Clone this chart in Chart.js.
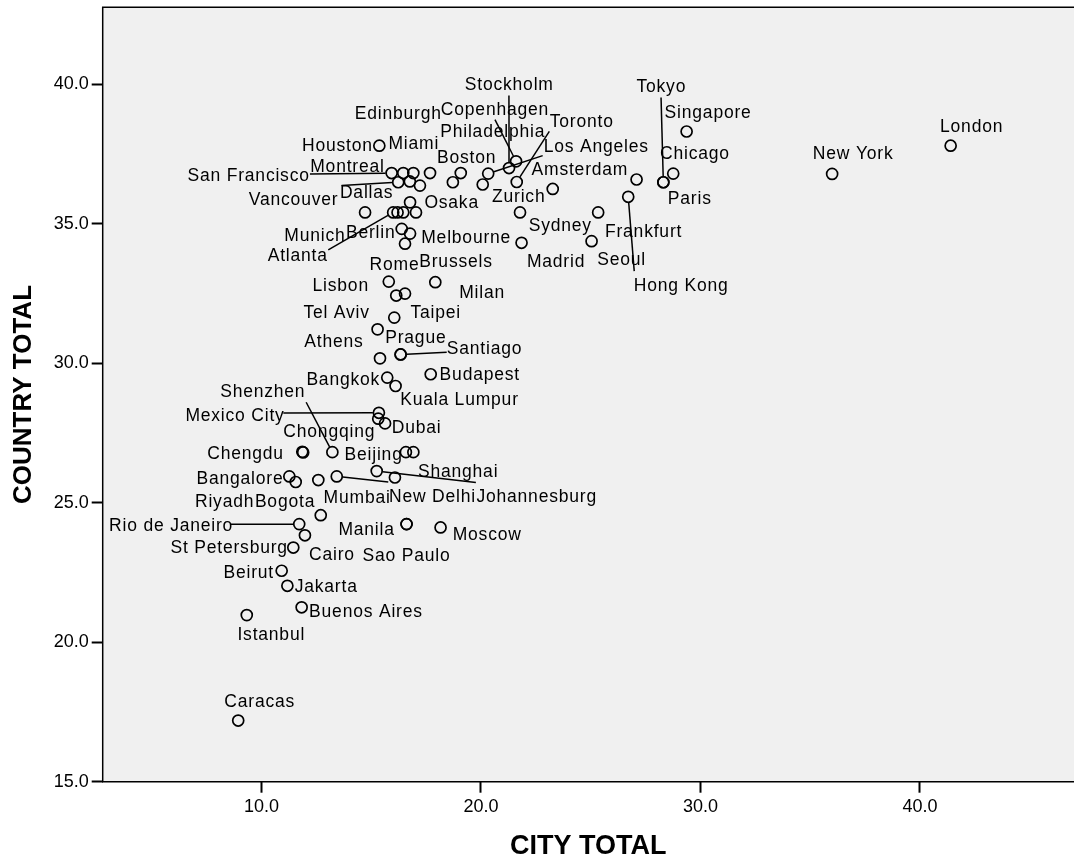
<!DOCTYPE html>
<html>
<head>
<meta charset="utf-8">
<script src="https://cdn.jsdelivr.net/npm/chart.js@4.4.1/dist/chart.umd.min.js"></script>
<style>
  html, body { margin: 0; padding: 0; background: #fff; }
  canvas { display: block; }
</style>
</head>
<body>
<canvas id="cityChart" width="1074" height="863"></canvas>
<script>
// city scores (x = city total, y = country total)
const cities = [
  'London', 'New York', 'Singapore', 'Chicago', 'Paris', 'Tokyo', 'Amsterdam', 'Hong Kong',
  'Frankfurt', 'Seoul', 'Zurich', 'Sydney', 'Madrid', 'Toronto', 'Copenhagen', 'Stockholm',
  'Los Angeles', 'Philadelphia', 'Boston', 'Osaka', 'Houston', 'San Francisco', 'Montreal', 'Miami',
  'Edinburgh', 'Vancouver', 'Dallas', 'Munich', 'Atlanta', 'Berlin', 'Melbourne', 'Rome',
  'Lisbon', 'Milan', 'Brussels', 'Taipei', 'Tel Aviv', 'Athens', 'Prague', 'Santiago',
  'Bangkok', 'Budapest', 'Kuala Lumpur', 'Mexico City', 'Dubai', 'Chongqing', 'Chengdu', 'Shenzhen',
  'Beijing', 'Shanghai', 'Johannesburg', 'New Delhi', 'Mumbai', 'Bangalore', 'Riyadh', 'Bogota',
  'Rio de Janeiro', 'Cairo', 'St Petersburg', 'Manila', 'Sao Paulo', 'Moscow', 'Beirut', 'Jakarta',
  'Buenos Aires', 'Istanbul', 'Caracas'
];
const cityTotal = [
  41.40, 36.00, 29.37, 28.76, 28.31, 28.31, 27.09, 26.71,
  25.34, 25.04, 23.27, 21.78, 21.85, 21.63, 21.60, 21.28,
  20.33, 20.08, 19.08, 16.77, 15.37, 15.93, 16.46, 16.92,
  17.68, 16.23, 16.76, 14.72, 16.00, 16.39, 16.77, 15.80,
  16.14, 16.54, 17.92, 16.05, 15.29, 15.40, 16.34, 16.34,
  15.73, 17.71, 16.11, 15.35, 15.63, 11.86, 11.90, 13.23,
  16.58, 16.92, 15.25, 13.43, 12.59, 11.27, 11.56, 12.70,
  11.72, 11.98, 11.45, 16.61, 16.61, 18.16, 10.92, 11.18,
  11.83, 9.33, 8.94
];
const countryTotal = [
  37.79, 36.78, 38.30, 36.79, 36.48, 36.48, 36.58, 35.96,
  35.40, 34.37, 36.24, 35.40, 34.31, 36.49, 37.23, 36.99,
  36.79, 36.40, 36.81, 35.76, 37.79, 36.81, 36.81, 36.81,
  36.81, 36.48, 36.51, 35.40, 35.40, 34.81, 34.64, 32.92,
  32.42, 32.49, 32.90, 31.63, 31.21, 30.17, 30.31, 30.31,
  29.48, 29.60, 29.18, 28.22, 27.84, 26.82, 26.80, 26.81,
  26.81, 26.81, 26.13, 25.94, 25.81, 25.94, 25.74, 24.55,
  24.23, 23.83, 23.39, 24.23, 24.23, 24.11, 22.56, 22.02,
  21.25, 20.97, 17.19
];
// cases that show no label in the picture
const otherCityTotal = [18.72, 17.22, 16.20, 16.46, 17.04, 16.54, 15.32, 16.08];
const otherCountryTotal = [36.48, 36.36, 35.40, 35.40, 35.40, 34.28, 28.01, 25.90];

const xTicks = [10, 20, 30, 40];
const yTicks = [15, 20, 25, 30, 35, 40];

// label placement, pixels from the point (text centre)
const labelOffsets = [
  [21, -20], [21, -21], [21.5, -20], [21.7, -20.7], [26.4, 15.6], [-2, -96], [-56.7, -10.7], [53, 88.4],
  [45.4, 19], [30, 18.3], [-34, 7.4], [40.3, 13], [34.5, 18.4], [65, -61.3], [-21.1, -52.4], [0.2, -84.2],
  [108, -28], [10, -53.3], [5.8, -16.2], [41.6, -0.1], [-41.9, -0.7], [-143, 2.1], [-55.8, -6.6], [0.4, -30.3],
  [-31.8, -60.3], [-104.6, 16.2], [-43.2, 10.5], [-50.1, 22.7], [-95.4, 42.4], [-31, 3], [56.1, 3.8], [5.7, -17.5],
  [-55.5, -10.5], [77.1, -1.2], [20.7, -21], [41.5, -5.9], [-41, -17.3], [-46, -17.6], [15.2, -17.5], [83.9, -6.5],
  [-44, 1.1], [49.1, 0.2], [63.9, 13.1], [-143.9, 2.3], [31.6, 3.4], [27, -21.3], [-57.6, 0.4], [-69.6, -60.9],
  [-32.3, 1.4], [44.8, 19.1], [160, 25.1], [95.7, 20], [38.8, 16.9], [-49.4, 1.1], [-71.1, 18.9], [-35.7, -14],
  [-128.1, 1.1], [27, 18.2], [-64.1, -0.2], [-40, 5.1], [0, 31.1], [46.6, 6.1], [-32.9, 1], [38.8, 0.5],
  [64.3, 3.4], [24.5, 18.9], [21.5, -20]
];
// where the leader line leaves the label, pixels from the point
const leaderStarts = {
  'Tokyo': [-2.3, -84.7],
  'Hong Kong': [6, 74.4],
  'Toronto': [32.6, -50.6],
  'Copenhagen': [-21.1, -41.7],
  'Stockholm': [-0.1, -72.5],
  'Los Angeles': [54.5, -18],
  'San Francisco': [-81.7, 0.9],
  'Vancouver': [-56.6, 3.2],
  'Atlanta': [-64.9, 37.4],
  'Santiago': [46.1, -2.1],
  'Mexico City': [-95.6, 0.3],
  'Shenzhen': [-26.2, -49.9],
  'Johannesburg': [99.2, 11.4],
  'New Delhi': [51.5, 5.7],
  'Rio de Janeiro': [-68.6, 0.1]
};

const FONT = '"Liberation Sans", Arial, sans-serif';
const POINT_R = 5.5;
const TEXT_DY = 1.2; // 'middle' baseline sits a little high for this font

const plotFrame = {
  id: 'plotFrame',
  beforeDraw(chart) {
    const { ctx, chartArea: a } = chart;
    ctx.save();
    ctx.fillStyle = '#f0f0f0';
    ctx.fillRect(a.left, a.top, a.right - a.left, a.bottom - a.top);
    ctx.restore();
  },
  afterDraw(chart) {
    const { ctx, chartArea: a } = chart;
    ctx.save();
    ctx.strokeStyle = '#000';
    ctx.lineWidth = 1.5;
    ctx.beginPath();
    ctx.moveTo(a.right + 2, a.top);
    ctx.lineTo(a.left, a.top);
    ctx.lineTo(a.left, a.bottom);
    ctx.lineTo(a.right + 2, a.bottom);
    ctx.stroke();
    ctx.restore();
  }
};

const cityLabels = {
  id: 'cityLabels',
  afterDatasetsDraw(chart) {
    const ctx = chart.ctx;
    const meta = chart.getDatasetMeta(0);
    ctx.save();
    ctx.font = '17.5px ' + FONT;
    ctx.letterSpacing = '0.8px';
    ctx.fillStyle = '#000';
    ctx.strokeStyle = '#000';
    ctx.lineWidth = 1.5;
    ctx.textAlign = 'center';
    ctx.textBaseline = 'middle';
    cities.forEach((name, i) => {
      const p = meta.data[i];
      const off = labelOffsets[i];
      const lead = leaderStarts[name];
      if (lead) {
        const sx = p.x + lead[0], sy = p.y + lead[1];
        const vx = p.x - sx, vy = p.y - sy;
        const len = Math.hypot(vx, vy);
        const r = POINT_R + 0.5;
        ctx.beginPath();
        ctx.moveTo(sx, sy);
        ctx.lineTo(p.x - vx / len * r, p.y - vy / len * r);
        ctx.stroke();
      }
      ctx.fillText(name, p.x + off[0], p.y + off[1] + TEXT_DY);
    });
    ctx.restore();
  }
};

const pointStyle = {
  pointStyle: 'circle',
  pointRadius: POINT_R,
  pointBorderWidth: 1.7,
  pointBorderColor: '#000',
  pointBackgroundColor: 'rgba(0,0,0,0)',
  showLine: false
};

new Chart(document.getElementById('cityChart'), {
  type: 'scatter',
  data: {
    datasets: [
      Object.assign({
        label: 'Cities',
        data: cities.map((c, i) => ({ x: cityTotal[i], y: countryTotal[i] }))
      }, pointStyle),
      Object.assign({
        label: 'Other cases',
        data: otherCityTotal.map((v, i) => ({ x: v, y: otherCountryTotal[i] }))
      }, pointStyle)
    ]
  },
  options: {
    responsive: false,
    animation: false,
    events: [],
    layout: { autoPadding: false, padding: { top: 7.3, left: 0, right: 0, bottom: 0 } },
    plugins: {
      legend: { display: false },
      tooltip: { enabled: false }
    },
    scales: {
      x: {
        type: 'linear',
        min: 2.766,
        max: 47.02,
        afterBuildTicks: (s) => { s.ticks = xTicks.map(v => ({ value: v })); },
        afterFit: (s) => { s.height = 81.3; s.paddingLeft = 0; s.paddingRight = 0; },
        border: { display: false },
        grid: { drawOnChartArea: false, drawTicks: true, tickLength: 11, tickWidth: 2, tickColor: '#000' },
        ticks: {
          color: '#000',
          font: { family: FONT, size: 18 },
          padding: 4,
          maxRotation: 0,
          autoSkip: false,
          callback: (v) => Number(v).toFixed(1)
        },
        title: {
          display: true,
          text: 'CITY TOTAL',
          color: '#000',
          font: { family: FONT, size: 27, weight: 'bold' },
          padding: { top: 0, bottom: 0 }
        }
      },
      y: {
        type: 'linear',
        min: 15,
        max: 42.75,
        afterBuildTicks: (s) => { s.ticks = yTicks.map(v => ({ value: v })); },
        afterFit: (s) => { s.width = 102.7; s.paddingTop = 0; s.paddingBottom = 0; },
        border: { display: false },
        grid: { drawOnChartArea: false, drawTicks: true, tickLength: 11, tickWidth: 2, tickColor: '#000' },
        ticks: {
          color: '#000',
          font: { family: FONT, size: 18 },
          padding: 3,
          autoSkip: false,
          callback: (v) => Number(v).toFixed(1)
        },
        title: {
          display: true,
          text: 'COUNTRY TOTAL',
          color: '#000',
          font: { family: FONT, size: 26, weight: 'bold' },
          padding: { top: 8, bottom: 0 }
        }
      }
    }
  },
  plugins: [plotFrame, cityLabels]
});
</script>
</body>
</html>
